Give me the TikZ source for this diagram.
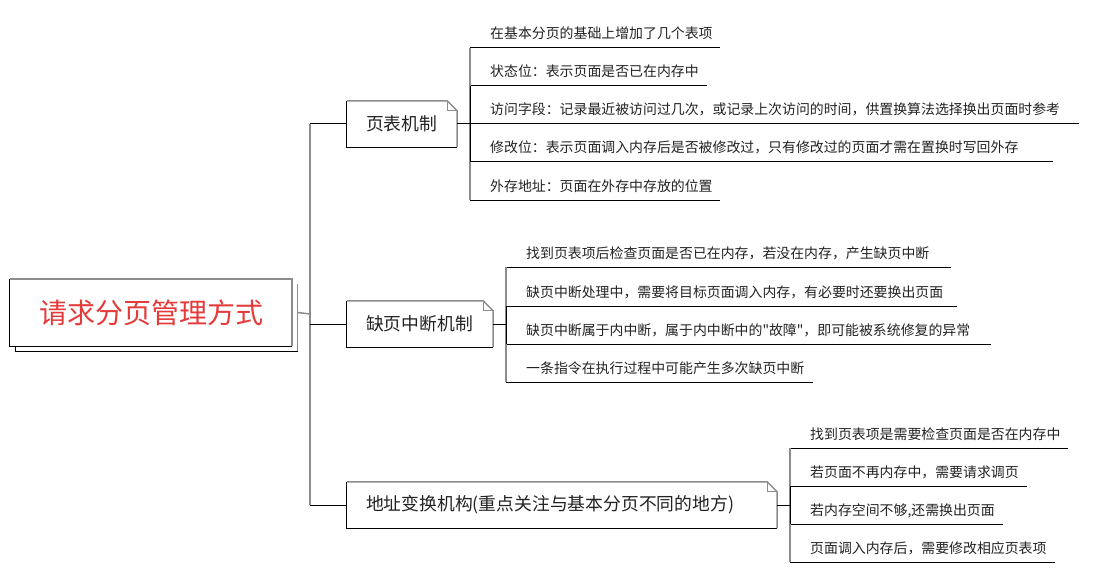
\documentclass[tikz,border=0pt]{standalone}
\usepackage{fontspec}
\newfontfamily\cjk{Noto Sans CJK SC}
\usetikzlibrary{calc}
\definecolor{edgegray}{RGB}{140,140,140}
\definecolor{rootred}{RGB}{228,58,58}
\definecolor{ink}{RGB}{34,34,34}
\newcommand\drawnote[1]{%
  \draw[black, line width=1pt] (#1.north west) -- (#1.south west) -- (#1.south east);
  \draw[edgegray, line width=1.5pt] (#1.north west) -- ($(#1.north east)+(-10,0)$) -- ($(#1.north east)+(0,10)$) -- (#1.south east);
  \draw[edgegray, line width=0.8pt] ($(#1.north east)+(-10,0)$) -- ++(0,10) -- ++(10,0);
}
\newcommand\leafitem[5]{%
  \coordinate (#1-s) at (#2,#3);
  \coordinate (#1-e) at (#4,#3);
  \node[leaf] (#1) at ($(#1-s)+(20,-9)$) {#5};
  \draw[line width=1pt] (#1-s) -- (#1-e);
}
\begin{document}
\begin{tikzpicture}[x=1pt,y=-1pt,
  leaf/.style={anchor=base west, inner sep=0pt, font=\cjk\fontsize{13.9}{16}\selectfont, text=ink},
  branchbox/.style={fill=white, inner ysep=0pt, inner xsep=19pt, text width=#1-38pt, align=left, minimum height=46pt, font=\cjk\fontsize{17.8}{20}\selectfont, text=ink},
  rootbox/.style={fill=white, inner sep=0pt, minimum width=282pt, minimum height=67pt},
  trunk/.style={edgegray, line width=1.5pt},
  link/.style={black, line width=1pt}]
\useasboundingbox (0,0) rectangle (1114,575);

% root
\node[rootbox] (rootS) at (156.5,317.5) {};
\draw[black, line width=1pt] (rootS.north west) -- (rootS.south west) -- (rootS.south east);
\draw[edgegray, line width=1.5pt] (rootS.north east) -- (rootS.south east);
\node[rootbox, font=\cjk\fontsize{28}{32}\selectfont, text=rootred] (root) at (151,312.5) {请求分页管理方式};
\draw[black, line width=1pt] (root.north west) -- (root.south west) -- (root.south east);
\draw[edgegray, line width=1.5pt] (root.north west) -- (root.north east) -- (root.south east);

% main trunk
\coordinate (T) at (310,314);
\coordinate (Ttop) at (310,124);
\coordinate (Tbot) at (310,505);
\draw[trunk] (root.east -| rootS.east) -- (T);
\draw[trunk] (Ttop) -- (Tbot);

% branches
\node[branchbox=110pt] (b1) at (402,124) {页表机制};
\node[branchbox=146pt] (b2) at (420,324) {缺页中断机制};
\node[branchbox=430pt] (b3) at (562,505) {地址变换机构(重点关注与基本分页不同的地方)};
\drawnote{b1}
\drawnote{b2}
\drawnote{b3}
\draw[link] (b1.west -| T) -- (b1.west);
\draw[link] (b2.west -| T) -- (b2.west);
\draw[link] (b3.west -| T) -- (b3.west);

% group 1
\leafitem{a1}{470}{48}{720}{在基本分页的基础上增加了几个表项}
\leafitem{a2}{470}{86}{707}{状态位：表示页面是否已在内存中}
\leafitem{a3}{470}{124}{1079}{访问字段：记录最近被访问过几次，或记录上次访问的时间，供置换算法选择换出页面时参考}
\leafitem{a4}{470}{162}{1053}{修改位：表示页面调入内存后是否被修改过，只有修改过的页面才需在置换时写回外存}
\leafitem{a5}{470}{200}{720}{外存地址：页面在外存中存放的位置}
\draw[trunk] (a1-s) -- (a5-s);
\draw[link] (a2-s) -- (a4-s);
\draw[link] (b1.east) -- (a3-s);

% group 2
\leafitem{c1}{506}{267}{951}{找到页表项后检查页面是否已在内存，若没在内存，产生缺页中断}
\leafitem{c2}{506}{306}{957}{缺页中断处理中，需要将目标页面调入内存，有必要时还要换出页面}
\leafitem{c3}{506}{344}{991}{缺页中断属于内中断，属于内中断中的"故障"，即可能被系统修复的异常}
\leafitem{c4}{506}{382}{813}{一条指令在执行过程中可能产生多次缺页中断}
\draw[trunk] (c1-s) -- (c4-s);
\draw[link] (c2-s) -- (c3-s);
\draw[link] (b2.east) -- (b2.east -| c1-s);

% group 3
\leafitem{d1}{790}{448}{1068}{找到页表项是需要检查页面是否在内存中}
\leafitem{d2}{790}{486}{1027}{若页面不再内存中，需要请求调页}
\leafitem{d3}{790}{524}{1003}{若内存空间不够,还需换出页面}
\leafitem{d4}{790}{562}{1055}{页面调入内存后，需要修改相应页表项}
\draw[trunk] (d1-s) -- (d4-s);
\draw[link] (d2-s) -- (d3-s);
\draw[link] (b3.east) -- (b3.east -| d1-s);
\end{tikzpicture}
\end{document}
